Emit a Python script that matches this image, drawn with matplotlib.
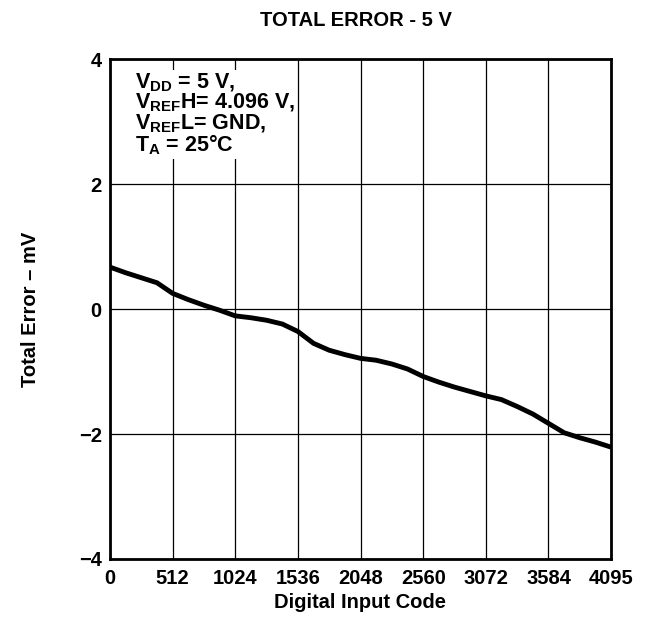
import numpy as np
import matplotlib
matplotlib.use('Agg')
import matplotlib.pyplot as plt

# data
codes = [0, 128, 256, 384, 512, 640, 768, 896, 1024, 1152, 1280, 1408, 1536,
         1664, 1792, 1920, 2048, 2176, 2304, 2432, 2560, 2688, 2816, 2944,
         3072, 3200, 3328, 3456, 3584, 3712, 3840, 3968, 4095]
error_mv = [0.67, 0.58, 0.50, 0.42, 0.25, 0.15, 0.06, -0.02, -0.11, -0.14,
            -0.18, -0.24, -0.36, -0.55, -0.66, -0.73, -0.79, -0.82, -0.88,
            -0.96, -1.08, -1.17, -1.25, -1.32, -1.39, -1.45, -1.56, -1.68,
            -1.83, -1.98, -2.06, -2.13, -2.21]
x_ticks = [0, 512, 1024, 1536, 2048, 2560, 3072, 3584, 4095]
y_ticks = [-4, -2, 0, 2, 4]
y_labels = ['\u22124', '\u22122', '0', '2', '4']

plt.rcParams['font.family'] = ['Liberation Sans', 'DejaVu Sans']
plt.rcParams['font.weight'] = 'bold'
plt.rcParams['mathtext.fontset'] = 'custom'
plt.rcParams['mathtext.rm'] = 'Liberation Sans:bold'
plt.rcParams['mathtext.it'] = 'Liberation Sans:bold'
plt.rcParams['mathtext.bf'] = 'Liberation Sans:bold'

fs = 14.5
fig = plt.figure(figsize=(6.46, 6.19), dpi=100)
ax = fig.add_axes([110 / 646, 1 - 559 / 619, 501 / 646, 500 / 619])

ax.plot(codes, error_mv, color='black', linewidth=3.5, solid_capstyle='butt')

ax.set_xlim(0, 4095)
ax.set_ylim(-4, 4)
ax.set_xticks(x_ticks)
ax.set_yticks(y_ticks)
ax.set_yticklabels(y_labels)
ax.tick_params(length=0, labelsize=fs)
ax.tick_params(axis='x', pad=7)
ax.tick_params(axis='y', pad=6)
ax.grid(True, color='black', linewidth=0.9)
for s in ax.spines.values():
    s.set_linewidth(2)

ax.set_xlabel('Digital Input Code', fontsize=fs, fontweight='bold', labelpad=4)
ax.set_ylabel('Total Error \u2013 mV', fontsize=fs, fontweight='bold', labelpad=28)
fig.text(356 / 646, 1 - 20 / 619, 'TOTAL ERROR - 5 V', ha='center', va='center',
         fontsize=fs, fontweight='bold')

note = ('V$_{DD}$ = 5 V,\n'
        'V$_{REF}$H= 4.096 V,\n'
        'V$_{REF}$L= GND,\n'
        'T$_{A}$ = 25\u00b0C')
ax.text(0.05, 0.975, note, transform=ax.transAxes, ha='left', va='top',
        fontsize=15.5, fontweight='bold', linespacing=0.9,
        bbox=dict(facecolor='white', edgecolor='none', pad=1))

fig.savefig('out.png', dpi=100)
